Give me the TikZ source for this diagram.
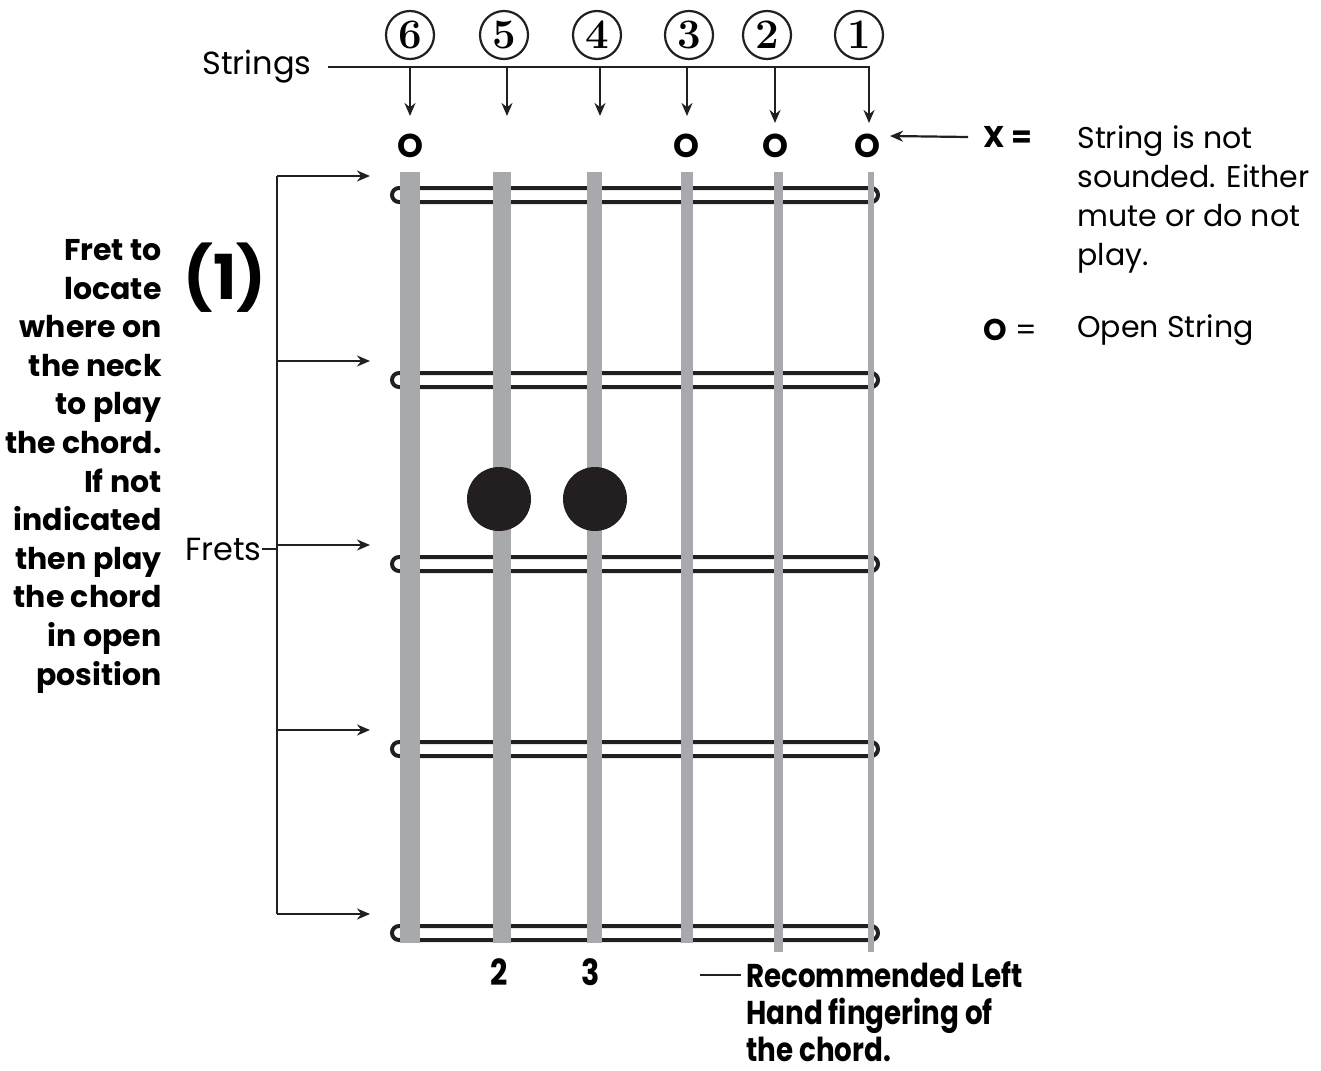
\documentclass[tikz,border=0pt]{standalone}
\usepackage{fontspec}
\setsansfont{Poppins}
\newfontfamily\condfont[FakeStretch=0.84]{Poppins}
\usetikzlibrary{arrows.meta}
\definecolor{ink}{HTML}{231F20}
\definecolor{strgray}{HTML}{A7A9AC}
\tikzset{
  fretbar/.style={draw=ink,line width=2pt,rounded corners=3.5pt},
  ptr/.style={draw=ink,line width=1.1pt,-{Stealth[length=6.5pt,width=5.5pt]}},
  numcirc/.style={circle,draw=ink,line width=1.1pt,minimum size=24pt,inner sep=0pt,font=\rmfamily\bfseries\fontsize{21}{21}\selectfont},
  openmark/.style={font=\sffamily\bfseries\fontsize{16.5}{16.5}\selectfont,inner sep=0pt},
  fingdot/.style={circle,fill=ink,minimum size=32pt,inner sep=0pt},
  txt/.style={font=\sffamily\fontsize{15}{19.5}\selectfont,inner sep=0pt},
  lbl/.style={font=\sffamily\fontsize{16}{16}\selectfont,inner sep=0pt},
  boldtxt/.style={font=\sffamily\bfseries\fontsize{15}{19.3}\selectfont,inner sep=0pt},
  condtxt/.style={font=\condfont\bfseries\fontsize{16.5}{18.5}\selectfont,inner sep=0pt},
}
\begin{document}
\begin{tikzpicture}[x=0.5pt,y=-0.5pt,font=\sffamily]
  \useasboundingbox (0,0) rectangle (1321,1070);
  \foreach \i/\y in {1/195,2/380,3/564,4/749,5/933}{
    \draw[fretbar] (392,\y-7) rectangle (878,\y+7);
    \coordinate (b\i) at (277,\y-19);
    \coordinate (f\i) at (370,\y-19);
  }
  \foreach \s/\x/\w/\e/\nx/\ax/\tip in {6/410/20/943/410/410/116, 5/502/18/943/504/507/116,
    4/594.5/15/943/597/600/116, 3/687/12/943/689/687/116, 2/778.5/9/952/767/775/123, 1/871/6/952/859/869/123}{
    \fill[strgray] (\x-\w/2,172) rectangle (\x+\w/2,\e);
    \node[numcirc] (n\s) at (\nx,35) {\s};
    \coordinate (t\s) at (\ax,67);
    \coordinate (a\s) at (\ax,\tip);
  }
  \node[lbl,anchor=east] (lblS) at (312,67) {Strings};
  \draw[ptr] (lblS.east) ++(16,0) -- (t1) -- (a1);
  \foreach \s in {6,5,4,3,2}{\draw[ptr] (t\s) -- (a\s);}
  \foreach \s/\x in {6/410,3/686,2/775,1/867}{\node[openmark] (o\s) at (\x,146) {O};}
  \node[fingdot] (d5) at (499,499) {};
  \node[fingdot] (d4) at (595,499) {};
  \node[condtxt,font=\condfont\bfseries\fontsize{18}{18}\selectfont] (g5) at (499,972) {2};
  \node[condtxt,font=\condfont\bfseries\fontsize{18}{18}\selectfont] (g4) at (591,972) {3};
  \node[condtxt,anchor=north west,align=left] (rec) at (746,961) {Recommended Left\\Hand fingering of\\the chord.};
  \coordinate (recl) at (700,975);
  \draw[ink,line width=1pt] (recl) -- ([xshift=-2.5pt]rec.north west |- recl);
  \node[boldtxt,anchor=west] (xeq) at (983,137) {X =};
  \coordinate (xtip) at (890,136);
  \draw[ptr] (xeq.west) ++(-15,0) -- (xtip);
  \node[txt,anchor=north west,align=left] (xdesc) at (1077,125) {String is not\\sounded. Either\\mute or do not\\play.};
  \node[txt,anchor=west] (oeq) at (983,330) {{\bfseries O} =};
  \node[txt,anchor=west] (odesc) at (1077,330) {Open String};
  \draw[ink,line width=1.1pt] (b1) -- (b5);
  \foreach \i in {1,...,5}{\draw[ptr] (b\i) -- (f\i);}
  \node[lbl,anchor=east] (lblF) at (262,549) {Frets};
  \draw[ink,line width=1.1pt] (lblF.east) -- (lblF.east -| b3);
  \node[font=\sffamily\bfseries\fontsize{31}{31}\selectfont,inner sep=0pt] (pos) at (225,278) {(1)};
  \node[boldtxt,anchor=north east,align=right] (note) at (162,239) {Fret to\\locate\\where on\\the neck\\to play\\the chord.\\If not\\indicated\\then play\\the chord\\in open\\position};
\end{tikzpicture}
\end{document}
